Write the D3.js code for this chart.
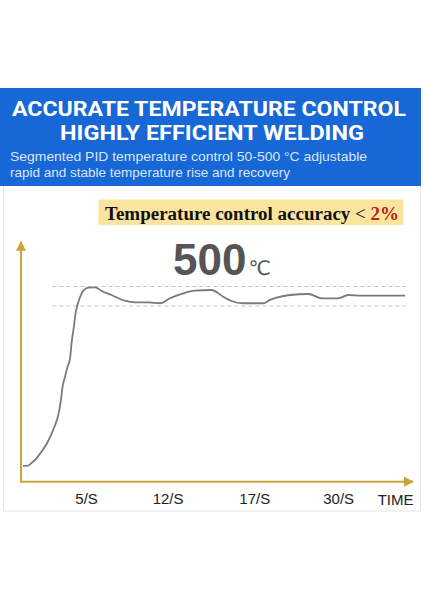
<!DOCTYPE html>
<html>
<head>
<meta charset="utf-8">
<script src="https://cdn.jsdelivr.net/npm/d3@7"></script>
<style>
  html, body { margin: 0; padding: 0; background: #fff; }
  svg { display: block; }
</style>
</head>
<body>
<svg width="424" height="600"></svg>
<script>
// curve samples: t = position along the time axis (0..100), temp in °C
var timePos = [0.5, 1.5, 2.7, 4.0, 5.3, 6.6, 7.7, 8.7, 9.5, 10.2, 10.6, 11.2, 11.9, 12.5, 12.9, 13.5, 13.9, 14.4, 15.1, 15.9, 17.2, 18.9, 20.6, 23.1, 26.5, 29.1, 32.5, 35.5, 38.0, 41.4, 44.4, 48.6, 51.6, 53.7, 56.7, 61.8, 63.5, 65.2, 68.6, 73.3, 76.7, 80.9, 83.5, 86.9, 98.0];
var temps = [326, 326, 329, 334, 341, 349, 358, 368, 378, 394, 407, 417, 428, 436, 452, 469, 482, 491, 499.5, 505.7, 508.8, 509.2, 505.4, 501.3, 495.4, 493.8, 493.8, 492.8, 497.9, 503.0, 505.7, 506.4, 499.5, 495.1, 492.8, 492.8, 496.2, 498.5, 501.3, 502.3, 497.9, 497.9, 501.3, 500.6, 500.6];

var tickPos = [16.6, 37.4, 59.5, 80.9];
var tickLabels = ["5/S", "12/S", "17/S", "30/S"];

var bandTemps = [490, 510];     // ±2% around 500
var bandSpan = [8, 98.5];

var svg = d3.select("svg");
var gold = "#c9a43c";

// panel
svg.append("rect")
    .attr("x", 3.5).attr("y", 180).attr("width", 417).attr("height", 331)
    .attr("fill", "#fff").attr("stroke", "#e4e4e4");

// blue banner
svg.append("rect")
    .attr("x", 0).attr("y", 88).attr("width", 421).attr("height", 98)
    .attr("fill", "#1767d6");

svg.append("text")
    .attr("x", 209).attr("y", 116)
    .attr("text-anchor", "middle")
    .attr("textLength", 394).attr("lengthAdjust", "spacingAndGlyphs")
    .style("font", "bold 20px Roboto, 'Noto Sans', sans-serif")
    .attr("fill", "#fff")
    .text("ACCURATE TEMPERATURE CONTROL");

svg.append("text")
    .attr("x", 212).attr("y", 140)
    .attr("text-anchor", "middle")
    .attr("textLength", 304).attr("lengthAdjust", "spacingAndGlyphs")
    .style("font", "bold 20px Roboto, 'Noto Sans', sans-serif")
    .attr("fill", "#fff")
    .text("HIGHLY EFFICIENT WELDING");

svg.append("text")
    .attr("x", 10).attr("y", 161)
    .attr("textLength", 357).attr("lengthAdjust", "spacingAndGlyphs")
    .style("font", "13px 'Liberation Sans', Arial, sans-serif")
    .attr("fill", "#dbe6f8")
    .text("Segmented PID temperature control 50-500 °C adjustable");

svg.append("text")
    .attr("x", 10).attr("y", 177)
    .attr("textLength", 280).attr("lengthAdjust", "spacingAndGlyphs")
    .style("font", "13px 'Liberation Sans', Arial, sans-serif")
    .attr("fill", "#dbe6f8")
    .text("rapid and stable temperature rise and recovery");

// accuracy note
svg.append("rect")
    .attr("x", 98.5).attr("y", 199.5).attr("width", 305).attr("height", 25.5)
    .attr("fill", "#fbe49e");

var note = svg.append("text")
    .attr("x", 105).attr("y", 219.5)
    .attr("textLength", 294).attr("lengthAdjust", "spacingAndGlyphs")
    .style("font", "18.5px 'Liberation Serif', 'Times New Roman', serif")
    .attr("fill", "#111");
note.append("tspan").attr("font-weight", "bold").text("Temperature control accuracy ");
note.append("tspan").text("< ");
note.append("tspan").attr("font-weight", "bold").attr("fill", "#b3221b").text("2%");

// 500 ℃
var big = svg.append("text")
    .attr("x", 173).attr("y", 275)
    .attr("fill", "#555");
big.append("tspan")
    .style("font", "bold 44px 'Liberation Sans', Arial, sans-serif")
    .text("500");
big.append("tspan")
    .attr("dx", 2)
    .style("font", "20px 'DejaVu Sans', sans-serif")
    .text("℃");

// scales
var x = d3.scaleLinear().domain([0, 100]).range([21, 413]);
var y = d3.scaleLinear().domain([490, 510]).range([306, 286.5]);

var x0 = 21, yBase = 481.7, yTop = 241.7, xEnd = 413;

// arrow marker
svg.append("defs").append("marker")
    .attr("id", "arrow")
    .attr("viewBox", "0 0 10 10")
    .attr("refX", 9).attr("refY", 5)
    .attr("markerWidth", 5).attr("markerHeight", 5)
    .attr("orient", "auto")
    .append("path")
    .attr("d", "M0,0L10,5L0,10z")
    .attr("fill", gold);

// dashed tolerance band
svg.append("g").selectAll("line")
    .data(bandTemps)
    .enter().append("line")
    .attr("x1", x(bandSpan[0])).attr("x2", x(bandSpan[1]))
    .attr("y1", function(d) { return y(d); })
    .attr("y2", function(d) { return y(d); })
    .attr("stroke", "#c4c4c4")
    .attr("stroke-width", 1)
    .attr("stroke-dasharray", "4,3");

// curve
var line = d3.line()
    .curve(d3.curveMonotoneX)
    .x(function(d) { return x(d[0]); })
    .y(function(d) { return y(d[1]); });

svg.append("path")
    .datum(d3.zip(timePos, temps))
    .attr("d", line)
    .attr("fill", "none")
    .attr("stroke", "#7a7a7a")
    .attr("stroke-width", 1.8);

// axes
svg.append("line")
    .attr("x1", x0).attr("y1", yBase).attr("x2", x0).attr("y2", yTop)
    .attr("stroke", gold).attr("stroke-width", 2)
    .attr("marker-end", "url(#arrow)");

svg.append("line")
    .attr("x1", x0 - 1).attr("y1", yBase).attr("x2", xEnd).attr("y2", yBase)
    .attr("stroke", gold).attr("stroke-width", 2)
    .attr("marker-end", "url(#arrow)");

var xAxis = svg.append("g")
    .attr("transform", "translate(0," + yBase + ")")
    .call(d3.axisBottom(x)
        .tickValues(tickPos)
        .tickFormat(function(d, i) { return tickLabels[i]; })
        .tickSize(0)
        .tickPadding(12));
xAxis.select(".domain").remove();
xAxis.selectAll("text")
    .style("font", "15px 'Liberation Sans', Arial, sans-serif")
    .attr("fill", "#222");

svg.append("text")
    .attr("x", 413.5).attr("y", 505)
    .attr("text-anchor", "end")
    .style("font", "15px 'Liberation Sans', Arial, sans-serif")
    .attr("fill", "#222")
    .text("TIME");
</script>
</body>
</html>
